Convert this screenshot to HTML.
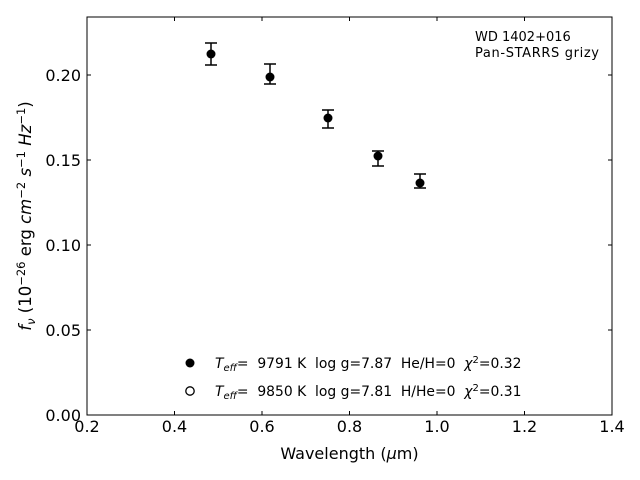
<!DOCTYPE html>
<html><head><meta charset="utf-8"><style>body{margin:0;background:#fff}svg{display:block}text{white-space:pre}</style></head>
<body>
<svg width="640" height="480" xmlns="http://www.w3.org/2000/svg" font-family="DejaVu Sans, Liberation Sans, sans-serif">
<rect width="640" height="480" fill="#fff"/>
<rect x="87" y="17" width="525" height="398" fill="none" stroke="#000" stroke-width="1"/>
<g stroke="#000" stroke-width="1">
<line x1="87" y1="415" x2="87" y2="411"/><line x1="174.5" y1="415" x2="174.5" y2="411"/><line x1="262" y1="415" x2="262" y2="411"/><line x1="349.5" y1="415" x2="349.5" y2="411"/><line x1="437" y1="415" x2="437" y2="411"/><line x1="524.5" y1="415" x2="524.5" y2="411"/><line x1="612" y1="415" x2="612" y2="411"/>
<line x1="87" y1="17" x2="87" y2="21"/><line x1="174.5" y1="17" x2="174.5" y2="21"/><line x1="262" y1="17" x2="262" y2="21"/><line x1="349.5" y1="17" x2="349.5" y2="21"/><line x1="437" y1="17" x2="437" y2="21"/><line x1="524.5" y1="17" x2="524.5" y2="21"/>
<line x1="87" y1="330" x2="91" y2="330"/><line x1="87" y1="245" x2="91" y2="245"/><line x1="87" y1="160" x2="91" y2="160"/><line x1="87" y1="75" x2="91" y2="75"/>
<line x1="612" y1="330" x2="608" y2="330"/><line x1="612" y1="245" x2="608" y2="245"/><line x1="612" y1="160" x2="608" y2="160"/><line x1="612" y1="75" x2="608" y2="75"/>
</g>
<g font-size="16" text-anchor="middle" fill="#000">
<text x="87" y="432">0.2</text><text x="174.5" y="432">0.4</text><text x="262" y="432">0.6</text><text x="349.5" y="432">0.8</text><text x="437" y="432">1.0</text><text x="524.5" y="432">1.2</text><text x="612" y="432">1.4</text>
</g>
<g font-size="16" text-anchor="end" fill="#000">
<text x="81" y="421">0.00</text><text x="81" y="336">0.05</text><text x="81" y="251">0.10</text><text x="81" y="166">0.15</text><text x="81" y="81">0.20</text>
</g>
<text x="349.5" y="459" font-size="16" text-anchor="middle">Wavelength (<tspan font-style="italic">μ</tspan>m)</text>
<text transform="translate(31,216) rotate(-90)" font-size="16.5" text-anchor="middle"><tspan font-style="italic">f</tspan><tspan font-style="italic" font-size="11.5" dy="4">ν</tspan><tspan dy="-4"> (10</tspan><tspan font-size="11.5" dy="-6">−26</tspan><tspan dy="6"> erg </tspan><tspan font-style="italic">cm</tspan><tspan font-size="11.5" dy="-6">−2</tspan><tspan dy="6" font-style="italic"> s</tspan><tspan font-size="11.5" dy="-6">−1</tspan><tspan dy="6" font-style="italic"> Hz</tspan><tspan font-size="11.5" dy="-6">−1</tspan><tspan dy="6">)</tspan></text>
<text x="475" y="41" font-size="13">WD 1402+016</text>
<text x="475" y="57" font-size="13" textLength="124">Pan-STARRS grizy</text>
<g stroke="#000" stroke-width="1.5">
<line x1="211" y1="43" x2="211" y2="65"/><line x1="205" y1="43" x2="217" y2="43"/><line x1="205" y1="65" x2="217" y2="65"/>
<line x1="270" y1="64" x2="270" y2="84"/><line x1="264" y1="64" x2="276" y2="64"/><line x1="264" y1="84" x2="276" y2="84"/>
<line x1="328" y1="110" x2="328" y2="128"/><line x1="322" y1="110" x2="334" y2="110"/><line x1="322" y1="128" x2="334" y2="128"/>
<line x1="378" y1="151" x2="378" y2="166"/><line x1="372" y1="151" x2="384" y2="151"/><line x1="372" y1="166" x2="384" y2="166"/>
<line x1="420" y1="174" x2="420" y2="188"/><line x1="414" y1="174" x2="426" y2="174"/><line x1="414" y1="188" x2="426" y2="188"/>
</g>
<g fill="#000"><circle cx="211" cy="54" r="4.5"/><circle cx="270" cy="77" r="4.5"/><circle cx="328" cy="118" r="4.5"/><circle cx="378" cy="156" r="4.5"/><circle cx="420" cy="183" r="4.5"/></g>
<circle cx="190" cy="363" r="4.5" fill="#000"/>
<circle cx="190" cy="391" r="4.2" fill="#fff" stroke="#000" stroke-width="1.3"/>
<g font-size="13.9" fill="#000">
<text x="215" y="368" xml:space="preserve"><tspan font-style="italic">T</tspan><tspan font-style="italic" font-size="10" dy="3">eff</tspan><tspan dy="-3">=  9791 K  log g=7.87  He/H=0  </tspan><tspan font-style="italic">χ</tspan><tspan font-size="10" dy="-5">2</tspan><tspan dy="5">=0.32</tspan></text>
<text x="215" y="396" xml:space="preserve"><tspan font-style="italic">T</tspan><tspan font-style="italic" font-size="10" dy="3">eff</tspan><tspan dy="-3">=  9850 K  log g=7.81  H/He=0  </tspan><tspan font-style="italic">χ</tspan><tspan font-size="10" dy="-5">2</tspan><tspan dy="5">=0.31</tspan></text>
</g>
</svg>
</body></html>
